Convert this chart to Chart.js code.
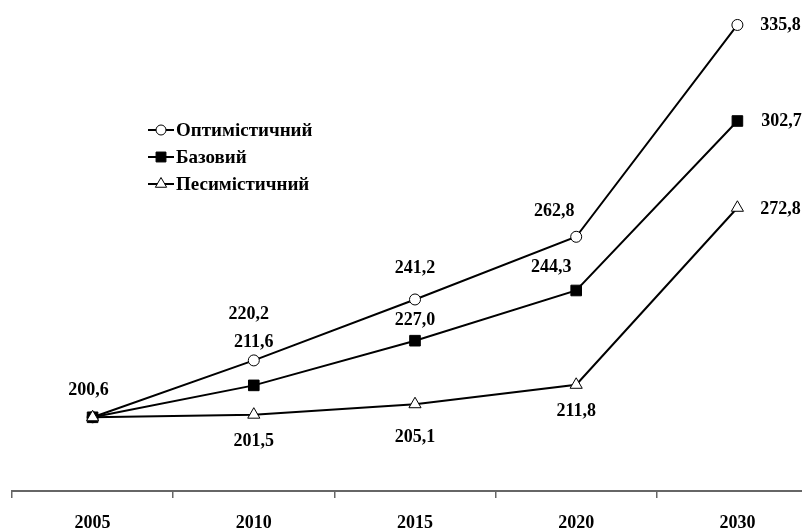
<!DOCTYPE html>
<html>
<head>
<meta charset="utf-8">
<script src="https://cdn.jsdelivr.net/npm/chart.js@4.4.0/dist/chart.umd.min.js"></script>
<style>
    html, body { margin: 0; padding: 0; background: #fff; overflow: hidden; }
    #wrapper { width: 802px; height: 528px; overflow: hidden; }
    #grafico { display: block; }
</style>
</head>
<body>
<div id="wrapper"><canvas id="grafico" width="828" height="548"></canvas></div>
<script>
"use strict"
const anni = ["2005", "2010", "2015", "2020", "2030"];
const ottimistico = [200.6, 220.2, 241.2, 262.8, 335.8];
const base = [200.6, 211.6, 227.0, 244.3, 302.7];
const pessimistico = [200.6, 201.5, 205.1, 211.8, 272.8];
const nomi = ["Оптимістичний", "Базовий", "Песимістичний"];

const FAMIGLIA = "'Liberation Serif', 'Times New Roman', serif";
const FONT = "bold 18px " + FAMIGLIA;
const FONT_LEGENDA = "bold 19px " + FAMIGLIA;

function formatta(v) {
    return v.toFixed(1).replace(".", ",");
}

// etichette dei valori accanto ai punti
const etichette = {
    id: "etichette",
    afterDatasetsDraw(chart) {
        let ctx = chart.ctx;
        ctx.save();
        ctx.font = FONT;
        ctx.fillStyle = "#000";
        ctx.textAlign = "center";
        ctx.textBaseline = "middle";
        chart.data.datasets.forEach((ds, i) => {
            let meta = chart.getDatasetMeta(i);
            meta.data.forEach((pt, j) => {
                let off = ds.labelOffsets[j];
                if (!off) return;
                ctx.fillText(formatta(ds.data[j]), pt.x + off[0], pt.y + off[1]);
            });
        });
        ctx.restore();
    }
};

// legenda disegnata a mano dentro il grafico
const legenda = {
    id: "legenda",
    afterDraw(chart, args, opts) {
        let ctx = chart.ctx;
        ctx.save();
        ctx.font = FONT_LEGENDA;
        ctx.textBaseline = "middle";
        ctx.textAlign = "left";
        chart.data.datasets.forEach((ds, i) => {
            let y = opts.y + i * opts.step;
            ctx.strokeStyle = "#000";
            ctx.lineWidth = 2;
            ctx.beginPath();
            ctx.moveTo(opts.x, y);
            ctx.lineTo(opts.x + 26, y);
            ctx.stroke();
            ctx.fillStyle = ds.pointBackgroundColor;
            ctx.strokeStyle = "#000";
            ctx.lineWidth = 1;
            Chart.helpers.drawPoint(ctx, { pointStyle: ds.pointStyle, radius: ds.pointRadius - 0.5, rotation: 0, borderWidth: 1 }, opts.x + 13, y);
            ctx.fillStyle = "#000";
            ctx.fillText(ds.label, opts.x + 28, y + 1);
        });
        ctx.restore();
    }
};

let chartOptions = {
    type: "line",
    data: {
        labels: anni,
        datasets: [{
            label: nomi[0],
            data: ottimistico,
            borderColor: "#000",
            borderWidth: 2,
            pointStyle: "circle",
            pointRadius: 5.5,
            pointBackgroundColor: "#fff",
            pointBorderColor: "#000",
            pointBorderWidth: 1,
            order: 2,
            labelOffsets: [null, [-5, -46], [0, -31], [-22, -25], [43, 0]]
        }, {
            label: nomi[1],
            data: base,
            borderColor: "#000",
            borderWidth: 2,
            pointStyle: "rect",
            pointRadius: 7.5,
            pointBackgroundColor: "#000",
            pointBorderColor: "#000",
            pointBorderWidth: 1,
            order: 1,
            labelOffsets: [[-4, -27], [0, -43], [0, -20], [-25, -23], [44, 0]]
        }, {
            label: nomi[2],
            data: pessimistico,
            borderColor: "#000",
            borderWidth: 2,
            pointStyle: "triangle",
            pointRadius: 7,
            pointBackgroundColor: "#fff",
            pointBorderColor: "#000",
            pointBorderWidth: 1,
            order: 0,
            labelOffsets: [null, [0, 27], [0, 33], [0, 27], [43, 2]]
        }]
    },
    options: {
        responsive: false,
        animation: false,
        layout: { autoPadding: false, padding: { left: 12, right: 10, top: 0, bottom: 0 } },
        scales: {
            x: {
                offset: true,
                border: { display: true, color: "#666", width: 2 },
                grid: { display: true, offset: true, drawOnChartArea: false, drawTicks: true, tickLength: 7, color: "#666", lineWidth: 1.5 },
                ticks: {
                    color: "#000",
                    font: { family: FAMIGLIA, size: 18, weight: "bold", lineHeight: 1 },
                    padding: 16,
                    maxRotation: 0,
                    autoSkip: false
                }
            },
            y: { display: false, min: 175.2, max: 344.4 }
        },
        plugins: {
            legend: { display: false },
            tooltip: { enabled: false },
            legenda: { x: 148, y: 130, step: 27 }
        }
    },
    plugins: [etichette, legenda]
};

let chart = new Chart(document.getElementById("grafico"), chartOptions);
</script>
</body>
</html>
